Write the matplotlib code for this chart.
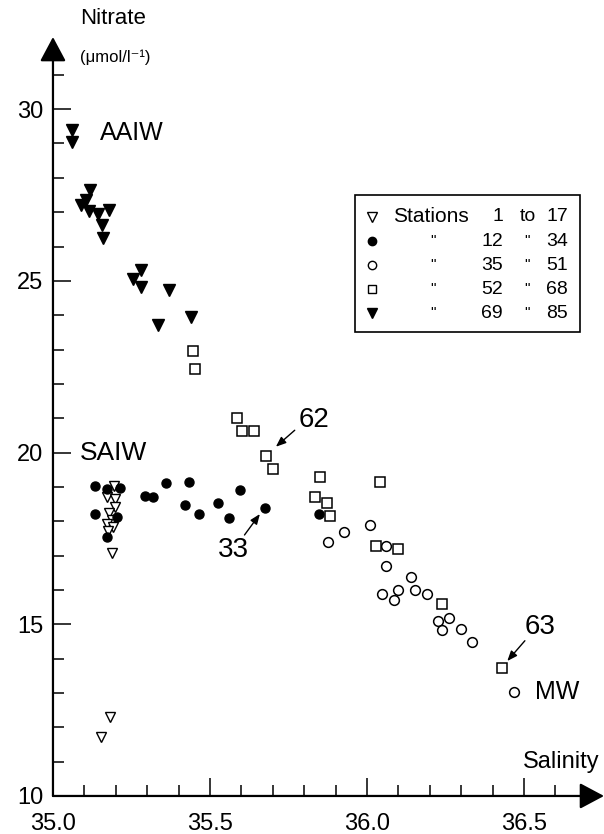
import matplotlib
matplotlib.use("Agg")
import matplotlib.pyplot as plt
from matplotlib.patches import Rectangle
import numpy as np

plt.rcParams["font.family"] = ["Liberation Sans", "DejaVu Sans"]

# -------------------------
# Data (salinity, nitrate)
# -------------------------
# stations 1 to 17 (open down triangles)
st1_sal = [35.194, 35.173, 35.197, 35.197, 35.180, 35.187, 35.171, 35.190, 35.176, 35.187, 35.183, 35.152]
st1_no3 = [19.02, 18.71, 18.66, 18.42, 18.23, 18.05, 17.92, 17.82, 17.72, 17.08, 12.31, 11.73]

# stations 12 to 34 (filled circles)
st12_sal = [35.134, 35.134, 35.173, 35.213, 35.203, 35.173, 35.294, 35.320, 35.360, 35.433,
            35.420, 35.464, 35.527, 35.562, 35.596, 35.675, 35.847]
st12_no3 = [19.03, 18.21, 18.95, 18.97, 18.11, 17.55, 18.73, 18.71, 19.12, 19.13,
            18.47, 18.22, 18.54, 18.08, 18.91, 18.39, 18.21]

# stations 35 to 51 (open circles)
st35_sal = [35.928, 35.875, 36.010, 36.060, 36.060, 36.139, 36.100, 36.047, 36.085, 36.153,
            36.190, 36.227, 36.261, 36.238, 36.300, 36.333, 36.469]
st35_no3 = [17.69, 17.40, 17.89, 17.28, 16.70, 16.38, 16.00, 15.88, 15.71, 16.00,
            15.87, 15.10, 15.17, 14.83, 14.86, 14.49, 13.04]

# stations 52 to 68 (open squares)
st52_sal = [35.447, 35.451, 35.585, 35.601, 35.640, 35.680, 35.700, 35.850, 35.834, 35.872,
            35.882, 36.040, 36.030, 36.100, 36.238, 36.429]
st52_no3 = [22.95, 22.43, 21.02, 20.63, 20.63, 19.90, 19.52, 19.30, 18.71, 18.54,
            18.15, 19.15, 17.28, 17.19, 15.59, 13.73]

# stations 69 to 85 (filled down triangles)
st69_sal = [35.060, 35.060, 35.118, 35.105, 35.090, 35.116, 35.144, 35.177, 35.156, 35.158,
            35.279, 35.256, 35.279, 35.370, 35.440, 35.333]
st69_no3 = [29.39, 29.05, 27.64, 27.35, 27.20, 27.04, 26.96, 27.06, 26.62, 26.24,
            25.33, 25.04, 24.83, 24.73, 23.95, 23.71]

# legend rows: first station, last station
legend_from = ["1", "12", "35", "52", "69"]
legend_to = ["17", "34", "51", "68", "85"]

# -------------------------
# Figure
# -------------------------
fig = plt.figure(figsize=(6.04, 8.34), dpi=100)
ax = fig.add_axes([0.0877, 0.0456, 0.9123, 0.910])
ax.set_xlim(35.0, 36.755)
ax.set_ylim(10.0, 32.1)

for sp in ax.spines.values():
    sp.set_visible(False)

# axes drawn as arrows
arr = dict(arrowstyle="-|>,head_length=0.75,head_width=0.4", lw=1.6,
           color="black", shrinkA=0, shrinkB=0, mutation_scale=20)
ax.annotate("", xy=(1.0, 0.0), xytext=(0.0, 0.0), xycoords="axes fraction",
            textcoords="axes fraction", arrowprops=arr)
ax.annotate("", xy=(0.0, 1.0), xytext=(0.0, 0.0), xycoords="axes fraction",
            textcoords="axes fraction", arrowprops=arr)

ax.set_xticks([35.0, 35.5, 36.0, 36.5])
ax.set_xticklabels(["35.0", "35.5", "36.0", "36.5"])
ax.set_yticks([10, 15, 20, 25, 30])
ax.set_xticks([t for t in np.arange(35.1, 36.65, 0.1) if abs(t * 2 - round(t * 2)) > 1e-6], minor=True)
ax.set_yticks([t for t in range(11, 32) if t % 5 != 0], minor=True)
ax.tick_params(which="major", direction="in", length=13, width=1.1, labelsize=17)
ax.tick_params(which="minor", direction="in", length=8, width=1.1)
ax.tick_params(axis="y", pad=7)
ax.tick_params(axis="x", pad=12)

# -------------------------
# Points
# -------------------------
ax.plot(st1_sal, st1_no3, "v", ms=6.5, mfc="white", mec="black", mew=1.0, ls="none")
ax.plot(st12_sal, st12_no3, "o", ms=6.5, mfc="black", mec="black", ls="none")
ax.plot(st35_sal, st35_no3, "o", ms=7, mfc="white", mec="black", mew=1.1, ls="none")
ax.plot(st52_sal, st52_no3, "s", ms=6.5, mfc="white", mec="black", mew=1.1, ls="none")
ax.plot(st69_sal, st69_no3, "v", ms=8, mfc="black", mec="black", ls="none")

# -------------------------
# Labels and annotations
# -------------------------
ax.text(35.086, 32.65, "Nitrate", fontsize=16, ha="left", va="center", clip_on=False)
ax.text(35.086, 31.5, "(μmol/l⁻¹)", fontsize=12, ha="left", va="center", clip_on=False)
ax.text(36.742, 10.8, "Salinity", fontsize=17, ha="right", va="baseline")

ax.text(35.149, 29.3, "AAIW", fontsize=18, ha="left", va="center")
ax.text(35.086, 19.99, "SAIW", fontsize=19, ha="left", va="center")
ax.text(36.535, 13.04, "MW", fontsize=18, ha="left", va="center")

ann_arrow = dict(arrowstyle="-|>,head_length=0.5,head_width=0.2", lw=1.0,
                 color="black", shrinkA=0, shrinkB=0, mutation_scale=12)
ax.annotate("", xy=(35.71, 20.17), xytext=(35.77, 20.65), arrowprops=ann_arrow)
ax.text(35.83, 20.95, "62", fontsize=20, ha="center", va="center")
ax.annotate("", xy=(35.659, 18.21), xytext=(35.61, 17.6), arrowprops=ann_arrow)
ax.text(35.574, 17.16, "33", fontsize=20, ha="center", va="center")
ax.annotate("", xy=(36.447, 13.93), xytext=(36.503, 14.52), arrowprops=ann_arrow)
ax.text(36.551, 14.93, "63", fontsize=20, ha="center", va="center")

# -------------------------
# Legend box (drawn by hand, like the original)
# -------------------------
ax.add_patch(Rectangle((35.962, 23.51), 36.68 - 35.962, 27.5 - 23.51,
                       fill=False, edgecolor="black", lw=1.2))
row_y = [26.86, 26.16, 25.46, 24.75, 24.05]
leg_styles = [("v", "white", 6.5), ("o", "black", 6), ("o", "white", 6),
              ("s", "white", 6), ("v", "black", 7.5)]
for i, (mk, fc, ms) in enumerate(leg_styles):
    ax.plot([36.015], [row_y[i]], mk, ms=ms, mfc=fc, mec="black", mew=1.0, ls="none")
    if i == 0:
        ax.text(36.083, row_y[i], "Stations", fontsize=15, ha="left", va="center")
        ax.text(36.513, row_y[i], "to", fontsize=14, ha="center", va="center")
    else:
        ax.text(36.21, row_y[i], "\"", fontsize=11, ha="center", va="center")
        ax.text(36.51, row_y[i], "\"", fontsize=11, ha="center", va="center")
    ax.text(36.433, row_y[i], legend_from[i], fontsize=14, ha="right", va="center")
    ax.text(36.64, row_y[i], legend_to[i], fontsize=14, ha="right", va="center")

fig.savefig("out.png", dpi=100)
